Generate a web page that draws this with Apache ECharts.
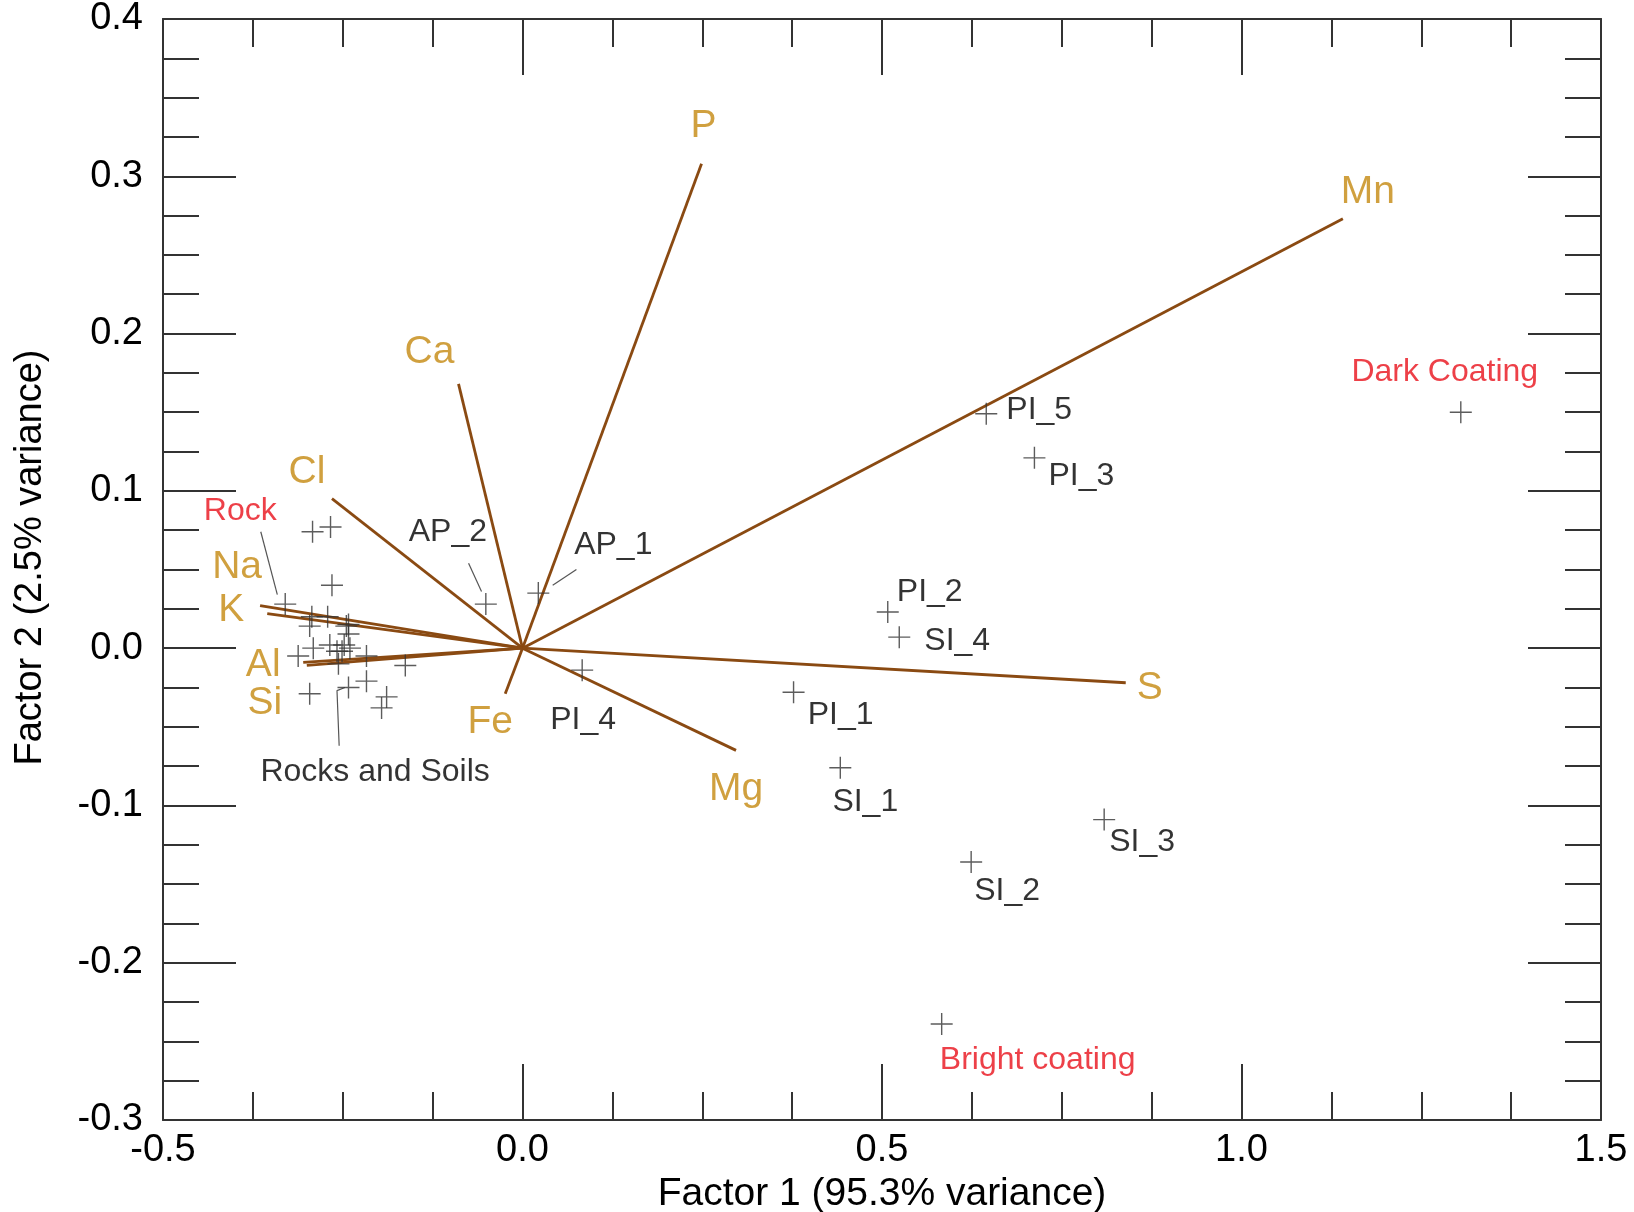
<!DOCTYPE html>
<html>
<head>
<meta charset="utf-8">
<script src="https://cdn.jsdelivr.net/npm/echarts@6/dist/echarts.min.js"></script>
<style>
  html, body { margin: 0; padding: 0; background: #fff; }
  #chart { width: 1634px; height: 1212px; }
</style>
</head>
<body>
<div id="chart"></div>
<script>
// loadings (vector end points)
const loadingNames = ["P", "Mn", "Ca", "Cl", "Na", "K", "Al", "Si", "Fe", "Mg", "S"];
const loadingX = [0.249, 1.141, -0.089, -0.265, -0.365, -0.355, -0.305, -0.300, -0.024, 0.297, 0.839];
const loadingY = [0.308, 0.273, 0.168, 0.095, 0.027, 0.022, -0.009, -0.011, -0.029, -0.065, -0.022];

// labelled samples
const sampleNames = ["Dark Coating", "PI_5", "PI_3", "PI_2", "SI_4", "PI_1", "SI_1", "SI_3", "SI_2",
  "Bright coating", "AP_1", "AP_2", "PI_4", "Rock"];
const sampleX = [1.305, 0.645, 0.712, 0.508, 0.524, 0.377, 0.442, 0.809, 0.624, 0.583, 0.022, -0.051, 0.083, -0.330];
const sampleY = [0.150, 0.149, 0.121, 0.023, 0.007, -0.028, -0.076, -0.109, -0.136, -0.239, 0.035, 0.028, -0.014, 0.028];

// rocks and soils cluster
const rockSoilX = [-0.292, -0.267, -0.265, -0.293, -0.271, -0.242, -0.296, -0.245, -0.242, -0.291, -0.312, -0.258,
  -0.251, -0.240, -0.256, -0.217, -0.163, -0.296, -0.242, -0.217, -0.189, -0.196, -0.268, -0.248];
const rockSoilY = [0.074, 0.077, 0.040, 0.020, 0.020, 0.015, 0.014, 0.014, 0.009, 0.000, -0.005, -0.002,
  -0.002, 0.000, -0.010, -0.005, -0.011, -0.029, -0.025, -0.021, -0.031, -0.038, 0.002, 0.002];

// leader lines for annotations
const leaders = [
  [[0.042, 0.040], [0.075, 0.050]],
  [[-0.057, 0.036], [-0.075, 0.054]],
  [[-0.341, 0.034], [-0.364, 0.074]],
  [[-0.247, -0.025], [-0.258, -0.027], [-0.255, -0.062]],
];
const clusterLabel = { name: "Rocks and Soils", x: -0.205, y: -0.079 };

const redNames = ["Dark Coating", "Bright coating", "Rock"];

// label offsets in pixels
const loadingOffsets = {
  P: [2, -37], Mn: [25, -27], Ca: [-29, -32], Cl: [-25, -26], Na: [-23, -38], K: [-36, -3],
  Al: [-40, 3], Si: [-42, 38], Fe: [-15, 28], Mg: [0, 39], S: [24, 6],
};
const sampleOffsets = {
  "Dark Coating": [-16, -40], PI_5: [53, -4], PI_3: [47, 18], PI_2: [42, -20], SI_4: [58, 4],
  PI_1: [47, 23], SI_1: [25, 34], SI_3: [38, 23], SI_2: [36, 29], "Bright coating": [96, 36],
  AP_1: [75, -48], AP_2: [-38, -72], PI_4: [1, 50], Rock: [-45, -93],
};

const FONT = "'Liberation Sans', Arial, Helvetica, sans-serif";
const vecColor = "#8a4a12";
const vecLabelColor = "#c4880f";
const crossColor = "#333";
const plus = "path://M10.3,0h1.4v10.3h10.3v1.4h-10.3v10.3h-1.4v-10.3h-10.3v-1.4h10.3z";

const chart = echarts.init(document.getElementById("chart"));

const axisCommon = {
  axisLine: { show: true, onZero: false, lineStyle: { color: "#333", width: 2 } },
  splitLine: { show: false },
};

const xBase = {
  type: "value", min: -0.5, max: 1.5, interval: 0.5,
  ...axisCommon,
  axisTick: { show: true, inside: true, length: 56, lineStyle: { color: "#333", width: 2 } },
  minorTick: { show: true, splitNumber: 4, length: 28, lineStyle: { color: "#333", width: 2 } },
};
const yBase = {
  type: "value", min: -0.3, max: 0.4, interval: 0.1,
  ...axisCommon,
  axisTick: { show: true, inside: true, length: 73, lineStyle: { color: "#333", width: 2 } },
  minorTick: { show: true, splitNumber: 4, length: 36, lineStyle: { color: "#333", width: 2 } },
};

const series = [];

// vectors
loadingNames.forEach((n, i) => {
  series.push({
    type: "line", silent: true, symbol: "none", z: 2,
    data: [[0, 0], [loadingX[i], loadingY[i]]],
    lineStyle: { color: vecColor, width: 2.8 },
  });
});

// vector labels
series.push({
  type: "scatter", silent: true, symbolSize: 0, z: 4,
  data: loadingNames.map((n, i) => ({
    name: n, value: [loadingX[i], loadingY[i]],
    label: { offset: loadingOffsets[n] },
  })),
  label: {
    show: true, position: "inside", formatter: "{b}", color: vecLabelColor,
    fontFamily: FONT, fontSize: 39, align: "center", verticalAlign: "middle",
  },
});

// leader lines
leaders.forEach((pts) => {
  series.push({
    type: "line", silent: true, symbol: "none", z: 3, data: pts,
    lineStyle: { color: "#555", width: 1.2 },
  });
});

// rocks and soils crosses
series.push({
  type: "scatter", silent: true, symbol: plus, symbolSize: 22, z: 5,
  itemStyle: { color: crossColor },
  data: rockSoilX.map((x, i) => [x, rockSoilY[i]]),
});

// labelled samples
series.push({
  type: "scatter", silent: true, symbol: plus, symbolSize: 22, z: 5,
  itemStyle: { color: crossColor },
  data: sampleNames.map((n, i) => ({
    name: n, value: [sampleX[i], sampleY[i]],
    label: {
      offset: sampleOffsets[n],
      color: redNames.includes(n) ? "#e8101a" : "#000",
    },
  })),
  label: {
    show: true, position: "inside", formatter: "{b}", fontFamily: FONT, fontSize: 32,
    align: "center", verticalAlign: "middle",
  },
});

// cluster caption
series.push({
  type: "scatter", silent: true, symbolSize: 0, z: 5,
  data: [{ name: clusterLabel.name, value: [clusterLabel.x, clusterLabel.y] }],
  label: {
    show: true, position: "inside", formatter: "{b}", color: "#000", fontFamily: FONT, fontSize: 32,
    align: "center", verticalAlign: "middle",
  },
});

chart.setOption({
  animation: false,
  backgroundColor: "#fff",
  grid: { left: 163, right: 33, top: 19, bottom: 92, containLabel: false, outerBoundsMode: "none" },
  xAxis: [
    {
      ...xBase, position: "bottom",
      name: "Factor 1 (95.3% variance)", nameLocation: "middle", nameGap: 49,
      nameTextStyle: { fontFamily: FONT, fontSize: 39, color: "#000" },
      axisLabel: {
        show: true, margin: 12, color: "#000", fontFamily: FONT, fontSize: 38,
        showMinLabel: true, showMaxLabel: true, formatter: (v) => v.toFixed(1),
      },
    },
    { ...xBase, position: "top", axisLabel: { show: false } },
  ],
  yAxis: [
    {
      ...yBase, position: "left",
      name: "Factor 2 (2.5% variance)", nameLocation: "middle", nameGap: 113,
      nameTextStyle: { fontFamily: FONT, fontSize: 38, color: "#000", padding: [0, 0, 0, 24] },
      axisLabel: {
        show: true, margin: 20, color: "#000", fontFamily: FONT, fontSize: 38,
        showMinLabel: true, showMaxLabel: true, formatter: (v) => v.toFixed(1),
      },
    },
    { ...yBase, position: "right", axisLabel: { show: false } },
  ],
  series: series,
});
</script>
</body>
</html>
